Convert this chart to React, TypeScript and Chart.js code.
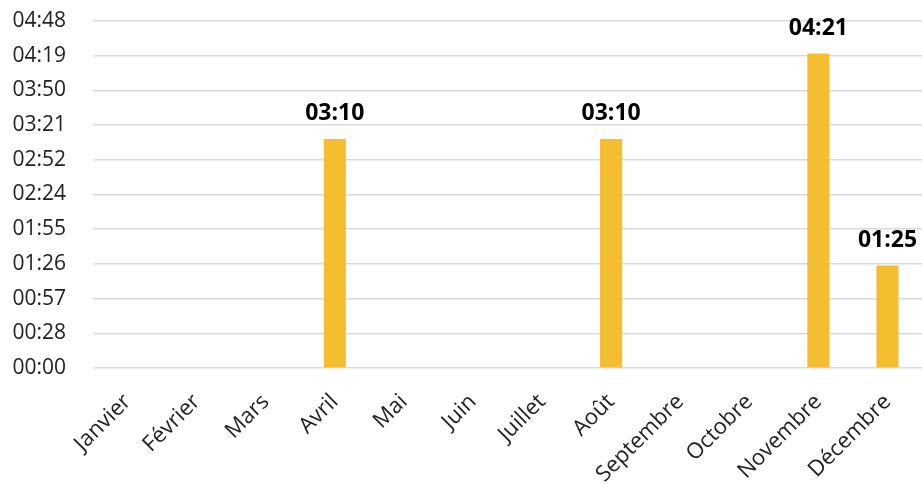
import React, { useEffect, useRef } from "react";
import { Chart, registerables } from "chart.js";

Chart.register(...registerables);

const months = [
  "Janvier", "Février", "Mars", "Avril", "Mai", "Juin",
  "Juillet", "Août", "Septembre", "Octobre", "Novembre", "Décembre",
];
// durations in minutes
const durations = [0, 0, 0, 190, 0, 0, 0, 190, 0, 0, 261, 85];
const yMax = 288;
const yStep = 28.8;

const barColor = "#F4BE30";
const FONT = "'Open Sans', 'Noto Sans', sans-serif";

function fmt(v: number): string {
  const secs = Math.round(v * 60);
  const h = Math.floor(secs / 3600);
  const m = Math.floor((secs % 3600) / 60);
  return String(h).padStart(2, "0") + ":" + String(m).padStart(2, "0");
}

const labelPlugin = {
  id: "barLabels",
  afterDatasetsDraw(chart: any) {
    const ctx = chart.ctx;
    const meta = chart.getDatasetMeta(0);
    ctx.save();
    ctx.font = `bold 23px ${FONT}`;
    ctx.fillStyle = "#000000";
    ctx.textAlign = "center";
    ctx.textBaseline = "alphabetic";
    meta.data.forEach((bar: any, i: number) => {
      const v = durations[i];
      if (!v) return;
      ctx.fillText(fmt(v), bar.x, bar.y - 19);
    });
    ctx.restore();
  },
};

export default function App() {
  const ref = useRef<HTMLCanvasElement>(null);
  useEffect(() => {
    const chart = new Chart(ref.current!, {
      type: "bar",
      data: {
        labels: months,
        datasets: [
          {
            data: durations,
            backgroundColor: barColor,
            barPercentage: 0.8,
            categoryPercentage: 0.4,
          },
        ],
      },
      options: {
        animation: false,
        responsive: false,
        devicePixelRatio: 1,
        layout: { padding: { top: 21, right: 0, left: 0, bottom: 0 } },
        plugins: { legend: { display: false }, tooltip: { enabled: false } },
        scales: {
          x: {
            grid: { display: false },
            border: { display: false },
            ticks: {
              maxRotation: 45,
              minRotation: 45,
              autoSkip: false,
              color: "#222222",
              font: { family: FONT, size: 22 },
              padding: 13,
            },
            afterFit: (s: any) => { s.height = 116; },
          },
          y: {
            min: 0,
            max: yMax,
            grid: {
              color: "#d9d9d9",
              lineWidth: 1.5,
              drawTicks: true,
              tickLength: 27,
              tickColor: "rgba(0,0,0,0)",
            },
            border: { display: false },
            ticks: {
              stepSize: yStep,
              color: "#222222",
              font: { family: FONT, size: 21 },
              padding: 0,
              callback: (v: any) => fmt(Number(v)),
            },
            afterFit: (s: any) => { s.width = 93; },
          },
        },
      },
      plugins: [labelPlugin],
    });
    return () => chart.destroy();
  }, []);
  return (
    <div style={{ position: "absolute", left: 0, top: 0, width: 922, height: 484, background: "#fff" }}>
      <canvas ref={ref} width={922} height={484} />
    </div>
  );
}
